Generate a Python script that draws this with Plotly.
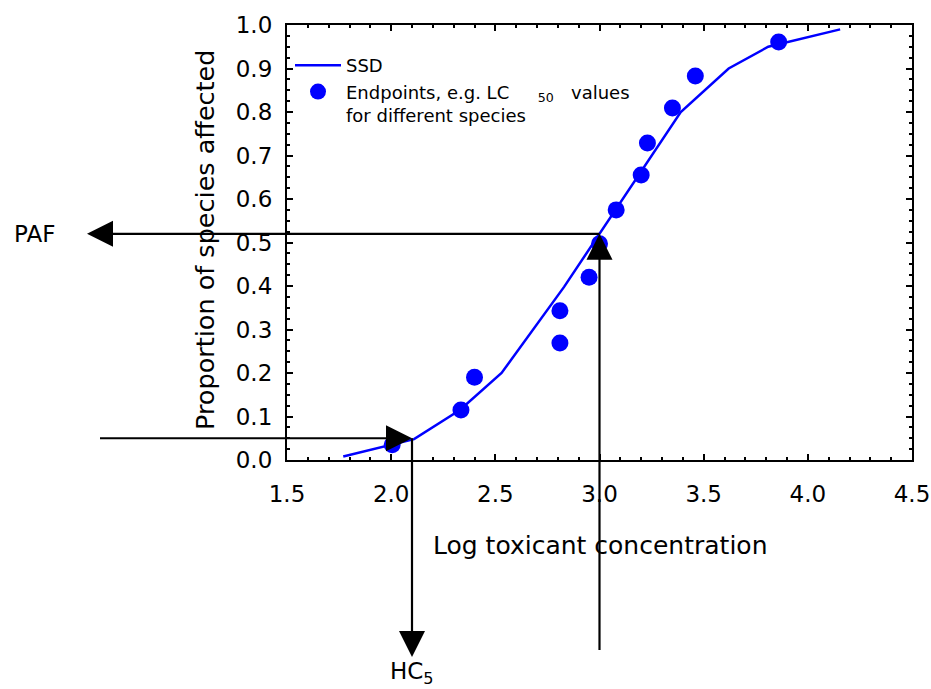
import plotly.graph_objects as go

# ---- data ----
ssd_conc = [1.77, 2.11, 2.33, 2.53, 2.83, 3.00, 3.39, 3.62, 3.81, 4.155]
ssd_prop = [0.008, 0.048, 0.115, 0.200, 0.398, 0.520, 0.800, 0.900, 0.950, 0.990]

end_conc = [2.005, 2.335, 2.40, 2.81, 2.81, 2.95, 3.00, 3.08, 3.20, 3.23, 3.35, 3.46, 3.86]
end_prop = [0.035, 0.115, 0.19, 0.343, 0.269, 0.42, 0.497, 0.575, 0.655, 0.729, 0.809, 0.883, 0.961]

hc5_conc, hc5_prop = 2.10, 0.05
paf_conc, paf_prop = 3.00, 0.52

x_range = [1.5, 4.5]
y_range = [0.0, 1.0]
x_ticks = [1.5, 2.0, 2.5, 3.0, 3.5, 4.0, 4.5]
y_ticks = [round(0.1 * i, 1) for i in range(11)]

# ---- layout geometry ----
W, H = 931, 689
ML, MR, MT, MB = 287, 19, 25, 229
PW, PH = W - ML - MR, H - MT - MB
FONT = "DejaVu Sans"


def fx(v):  # data x -> paper
    return (v - x_range[0]) / (x_range[1] - x_range[0])


def fy(v):  # data y -> paper
    return (v - y_range[0]) / (y_range[1] - y_range[0])


def px2fx(p):
    return (p - ML) / PW


def py2fy(p):
    return (H - MB - p) / PH


NB = "\u00a0"
fig = go.Figure()
fig.add_trace(go.Scatter(x=ssd_conc, y=ssd_prop, mode="lines", name="SSD",
                         line=dict(color="#0000FF", width=2.5)))
fig.add_trace(go.Scatter(x=end_conc, y=end_prop, mode="markers",
                         name="Endpoints, e.g. LC" + NB * 5 + "<sub>50</sub>" + NB * 3
                              + "values<br>for different species",
                         marker=dict(color="#0000FF", size=17)))

shapes = []
LW = 2.2
HEAD_L, HEAD_W = 26, 13  # px


def line(x0, y0, x1, y1):
    shapes.append(dict(type="line", xref="paper", yref="paper", x0=x0, y0=y0, x1=x1, y1=y1,
                       line=dict(color="black", width=LW)))


def tri(tipx, tipy, direction):
    # tip in paper coords, direction: 'left','right','up','down'
    lx, wy = HEAD_L / PW, HEAD_W / PH
    ly, wx = HEAD_L / PH, HEAD_W / PW
    if direction == "left":
        pts = [(tipx, tipy), (tipx + lx, tipy + wy), (tipx + lx, tipy - wy)]
    elif direction == "right":
        pts = [(tipx, tipy), (tipx - lx, tipy + wy), (tipx - lx, tipy - wy)]
    elif direction == "up":
        pts = [(tipx, tipy), (tipx - wx, tipy - ly), (tipx + wx, tipy - ly)]
    else:
        pts = [(tipx, tipy), (tipx - wx, tipy + ly), (tipx + wx, tipy + ly)]
    path = "M {},{} L {},{} L {},{} Z".format(*[c for p in pts for c in p])
    shapes.append(dict(type="path", xref="paper", yref="paper", path=path,
                       fillcolor="black", line=dict(color="black", width=0)))


# PAF arrow: vertical from below up to curve, then horizontal left
paf_x, paf_y = fx(paf_conc), fy(paf_prop)
line(paf_x, py2fy(650), paf_x, paf_y - HEAD_L / PH * 0.5)
tri(paf_x, paf_y, "up")
line(paf_x, paf_y, px2fx(87) + HEAD_L / PW * 0.5, paf_y)
tri(px2fx(87), paf_y, "left")

# HC5 arrow: horizontal from left to curve, then down
hc_x, hc_y = fx(hc5_conc), fy(hc5_prop)
line(px2fx(100), hc_y, hc_x - HEAD_L / PW * 0.5, hc_y)
tri(hc_x, hc_y, "right")
line(hc_x, hc_y, hc_x, py2fy(657) + HEAD_L / PH * 0.5)
tri(hc_x, py2fy(657), "down")

annotations = [
    dict(text="PAF", xref="paper", yref="paper", x=px2fx(34), y=paf_y, showarrow=False,
         font=dict(family=FONT, size=23, color="black"), xanchor="center", yanchor="middle"),
    dict(text="HC<sub>5</sub>", xref="paper", yref="paper", x=hc_x, y=py2fy(673), showarrow=False,
         font=dict(family=FONT, size=23, color="black"), xanchor="center", yanchor="middle"),
    dict(text="Log toxicant concentration", xref="paper", yref="paper", x=px2fx(600), y=py2fy(545),
         showarrow=False, font=dict(family=FONT, size=25, color="black"),
         xanchor="center", yanchor="middle"),
    dict(text="Proportion of species affected", xref="paper", yref="paper", x=px2fx(205),
         y=py2fy(240), textangle=-90, showarrow=False,
         font=dict(family=FONT, size=25.5, color="black"), xanchor="center", yanchor="middle"),
]

axis_common = dict(showline=True, linecolor="black", linewidth=2.2, mirror="ticks",
                   ticks="inside", ticklen=6, tickwidth=2, tickcolor="black",
                   showgrid=False, zeroline=False, automargin=False,
                   tickfont=dict(family=FONT, size=23, color="black"))

fig.update_xaxes(range=x_range, tickvals=x_ticks, ticktext=[f"{v:.1f}" for v in x_ticks],
                 minor=dict(dtick=0.1, ticks="inside", ticklen=3, tickwidth=1.5, tickcolor="black"),
                 ticklabelstandoff=12, **axis_common)
fig.update_yaxes(range=y_range, tickvals=y_ticks, ticktext=[f"{v:.1f}" for v in y_ticks],
                 minor=dict(dtick=0.025, ticks="inside", ticklen=3, tickwidth=1.5, tickcolor="black"),
                 ticklabelstandoff=8, **axis_common)

fig.update_layout(
    width=W, height=H,
    margin=dict(l=ML, r=MR, t=MT, b=MB, pad=0, autoexpand=False),
    paper_bgcolor="white", plot_bgcolor="white",
    shapes=shapes, annotations=annotations,
    showlegend=True,
    legend=dict(x=px2fx(290), y=py2fy(47), xanchor="left", yanchor="top",
                bgcolor="rgba(0,0,0,0)", borderwidth=0, valign="top",
                font=dict(family=FONT, size=18, color="black"), itemwidth=46,
                tracegroupgap=0),
)

fig.write_html("out.html")
